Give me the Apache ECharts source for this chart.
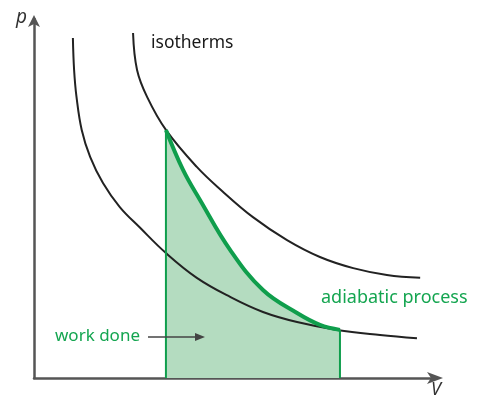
<!DOCTYPE html>
<html>
<head>
<meta charset="utf-8">
<script src="https://cdn.jsdelivr.net/npm/echarts@6/dist/echarts.min.js"></script>
<style>
  html, body { margin: 0; padding: 0; background: #fff; }
</style>
</head>
<body>
<div id="pv" style="width:483px;height:398px;"></div>
<script>
// p-V diagram, values in arbitrary units (0..10 on both axes)
const innerIsotherm = [
  [0.97, 9.47], [1.00, 8.58], [1.06, 7.83], [1.19, 6.91], [1.40, 6.16],
  [1.72, 5.43], [2.14, 4.76], [2.64, 4.19], [3.29, 3.48], [4.06, 2.79],
  [4.89, 2.26], [5.71, 1.84], [6.56, 1.56], [7.56, 1.34], [8.63, 1.20], [9.55, 1.11]
];
const outerIsotherm = [
  [2.47, 9.61], [2.57, 8.58], [2.82, 7.83], [3.29, 6.91], [4.06, 5.88],
  [4.69, 5.21], [5.46, 4.48], [6.31, 3.84], [7.13, 3.37], [7.96, 3.06],
  [8.80, 2.87], [9.63, 2.79]
];
const adiabatic = [
  [3.29, 6.91], [3.72, 5.79], [4.14, 4.96], [4.89, 3.57], [5.71, 2.45],
  [6.56, 1.81], [7.13, 1.48], [7.63, 1.34]
];
const startEdge = [[3.29, 0], [3.29, 6.91]];
const endEdge = [[7.63, 0], [7.63, 1.34]];

const black = '#222';
const green = '#0f9e4c';

let myChart = echarts.init(document.getElementById('pv'));
myChart.setOption({
  animation: false,
  grid: { left: 34, right: 48, top: 19, bottom: 20 },
  xAxis: {
    type: 'value', min: 0, max: 10,
    splitLine: { show: false }, axisTick: { show: false }, axisLabel: { show: false },
    axisLine: {
      lineStyle: { color: '#555', width: 2.5 },
      symbol: ['none', 'arrow'], symbolSize: [9, 16], symbolOffset: [0, 8]
    }
  },
  yAxis: {
    type: 'value', min: 0, max: 10,
    splitLine: { show: false }, axisTick: { show: false }, axisLabel: { show: false },
    axisLine: {
      lineStyle: { color: '#555', width: 2.5 },
      symbol: ['none', 'arrow'], symbolSize: [9, 12], symbolOffset: [0, 4]
    }
  },
  series: [
    {
      type: 'line', data: adiabatic, smooth: 0.4, showSymbol: false, z: 1,
      lineStyle: { width: 0 },
      areaStyle: { color: '#b4dcc0', opacity: 1 }
    },
    {
      type: 'line', data: innerIsotherm, smooth: 0.4, showSymbol: false, z: 3,
      lineStyle: { color: black, width: 2 }
    },
    {
      type: 'line', data: outerIsotherm, smooth: 0.4, showSymbol: false, z: 3,
      lineStyle: { color: black, width: 2 }
    },
    {
      type: 'line', data: adiabatic, smooth: 0.4, showSymbol: false, z: 4,
      lineStyle: { color: green, width: 4 }
    },
    {
      type: 'line', data: startEdge, showSymbol: false, z: 4,
      lineStyle: { color: green, width: 2 }
    },
    {
      type: 'line', data: endEdge, showSymbol: false, z: 4,
      lineStyle: { color: green, width: 2 }
    }
  ],
  graphic: [
    { type: 'text', left: 16, top: 8, style: { text: 'p', font: 'italic 19px "Noto Sans"', fill: '#333' } },
    { type: 'text', left: 431, top: 381, style: { text: 'V', font: 'italic 18px "Noto Sans"', fill: '#333' } },
    { type: 'text', left: 151, top: 34, style: { text: 'isotherms', font: '17.5px "Noto Sans"', fill: '#1a1a1a' } },
    { type: 'text', left: 321, top: 289, style: { text: 'adiabatic process', font: '18px "Noto Sans"', fill: '#14a550' } },
    { type: 'text', left: 55, top: 328, style: { text: 'work done', font: '17px "Noto Sans"', fill: '#14a550' } },
    { type: 'line', z: 10, shape: { x1: 148, y1: 337, x2: 198, y2: 337 }, style: { stroke: '#444', lineWidth: 1.5 } },
    { type: 'polygon', z: 10, shape: { points: [[205, 337], [195, 333], [195, 341]] }, style: { fill: '#444' } }
  ]
});
</script>
</body>
</html>
